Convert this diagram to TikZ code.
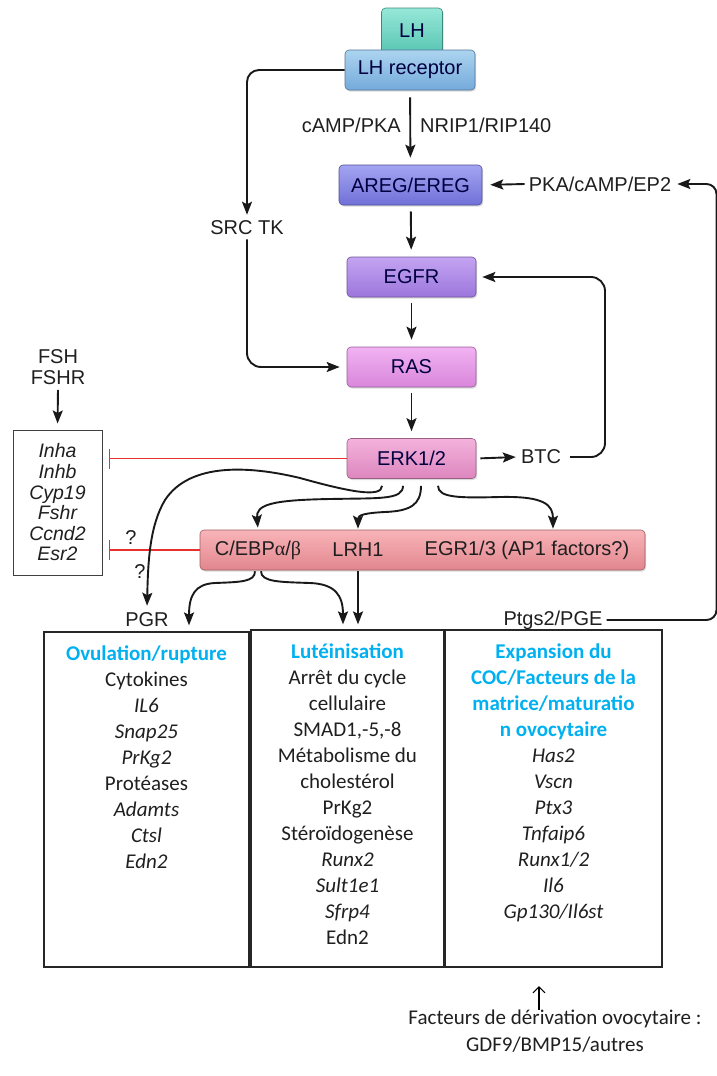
\documentclass[tikz,border=0pt]{standalone}
\usepackage{fontspec}
\setmainfont{Liberation Sans}
\newfontfamily\calib{Carlito}
\newfontfamily\greekf{Liberation Serif}
\usetikzlibrary{arrows.meta,shadows,positioning,calc}

\definecolor{titleblue}{RGB}{0,176,240}
\definecolor{inhred}{RGB}{232,48,44}
\definecolor{lhA}{RGB}{150,232,216}\definecolor{lhB}{RGB}{88,196,178}
\definecolor{lhrA}{RGB}{172,212,240}\definecolor{lhrB}{RGB}{116,170,218}
\definecolor{aregA}{RGB}{164,164,242}\definecolor{aregB}{RGB}{112,112,216}
\definecolor{egfrA}{RGB}{196,164,242}\definecolor{egfrB}{RGB}{156,118,220}
\definecolor{rasA}{RGB}{242,178,242}\definecolor{rasB}{RGB}{216,134,218}
\definecolor{erkA}{RGB}{244,178,220}\definecolor{erkB}{RGB}{220,134,190}
\definecolor{tfA}{RGB}{248,180,184}\definecolor{tfB}{RGB}{226,134,142}

\newcommand\gname[1]{{\itshape #1}}
\newcommand\ptitle[1]{{\color{titleblue}\bfseries #1}}

\begin{document}
\begin{tikzpicture}[x=1pt, y=-1pt,
    every node/.style={font=\fontsize{20}{21}\selectfont, inner sep=4pt, text=black!88},
    pathbox/.style 2 args={draw=#2!70!black, line width=0.6pt, rounded corners=4pt,
      top color=#1, bottom color=#2, minimum height=40pt, inner sep=2pt, text=black!75!blue,
      drop shadow={shadow xshift=1.2pt, shadow yshift=-1.5pt, opacity=0.3}},
    arr/.style={line width=1.9pt, black!90, -{Stealth[length=13pt,width=10pt,inset=2.5pt]}},
    inh/.style={line width=1.8pt, inhred, -{Bar[width=20pt]}},
    panel/.style={draw=black!85, line width=1.2pt},
    paneltext/.style={font=\calib\fontsize{21}{26}\selectfont, align=center, inner sep=0pt, anchor=north}
  ]
  \useasboundingbox (0,0) rectangle (717,1076);

  % signalling cascade
  \node[pathbox={lhA}{lhB}, minimum width=61pt, minimum height=46pt] (lh) at (412,31) {LH};
  \node[pathbox={lhrA}{lhrB}, minimum width=130pt] (lhr) at (410,70) {LH receptor};
  \node[pathbox={aregA}{aregB}, minimum width=143pt] (areg) at (410.5,185) {AREG/EREG};
  \node[pathbox={egfrA}{egfrB}, minimum width=129pt] (egfr) at (411.5,277) {EGFR};
  \node[pathbox={rasA}{rasB}, minimum width=129pt] (ras) at (411.5,367) {RAS};
  \node[pathbox={erkA}{erkB}, minimum width=129pt] (erk) at (411.5,458.5) {ERK1/2};
  \node[pathbox={tfA}{tfB}, minimum width=445pt] (tf) at (422.5,550) {};

  \node (cebp) at (258,550) {C/EBP{\greekf α}/{\greekf β}};
  \node (lrh) at (358,550) {LRH1};
  \node (egr) at (527,550) {EGR1/3 (AP1 factors?)};

  \node[anchor=east] (camp) at (405,125) {cAMP/PKA};
  \node[anchor=west] (nrip) at (416,125) {NRIP1/RIP140};
  \node (srctk) at (247,228) {SRC TK};
  \node (pka) at (600,184) {PKA/cAMP/EP2};
  \node (btc) at (541,457) {BTC};
  \node[align=center] (fsh) at (58,367) {FSH\\FSHR};
  \node (pgr) at (147,620) {PGR};
  \node (ptgs) at (553,620) {Ptgs2/PGE};
  \node (q1) at (131,538) {?};
  \node (q2) at (140,572) {?};

  \node[draw=black!75, line width=1pt, minimum width=89pt, minimum height=145pt, align=center,
    font=\itshape\fontsize{19.5}{20.6}\selectfont] (genes) at (57.5,502.5)
    {Inha\\Inhb\\Cyp19\\Fshr\\Ccnd2\\Esr2};

  % straight links
  \draw[arr, shorten <=7pt, shorten >=7pt] (lhr) -- (areg);
  \draw[arr, shorten <=6pt, shorten >=7pt] (areg) -- (egfr);
  \draw[arr, shorten <=6pt, shorten >=7pt] (egfr) -- (ras);
  \draw[arr, shorten <=6pt, shorten >=7pt] (ras) -- (erk);
  \draw[arr, rounded corners=12pt, shorten >=2pt] (lhr.west) -| (srctk.north);
  \draw[arr, rounded corners=14pt, shorten >=7pt] (srctk.south) |- (ras.west);
  \draw[arr, shorten <=4pt, shorten >=1pt] (erk.east) -- (btc.west);
  \draw[arr, rounded corners=14pt, shorten <=5pt, shorten >=6pt]
    (btc.east) -- (605,457) -- (605,277) -- (egfr.east);
  \draw[arr, shorten >=8pt] (pka.west) -- (areg.east);
  \coordinate (pgeturn) at (716.5,620);
  \draw[arr, rounded corners=10pt, shorten >=2pt]
    (ptgs.east) -- (pgeturn) -- (pgeturn |- pka.east) -- (pka.east);
  \draw[arr, shorten <=1pt, shorten >=6pt] (fsh.south) -- (genes.north);

  % inhibitions
  \draw[inh, shorten >=6pt] (erk.west) -- (erk.west -| genes.east);
  \draw[inh, shorten >=6pt] (tf.west) -- (tf.west -| genes.east);

  % ERK targets
  \draw[arr, shorten >=3pt] ($(erk.south)+(-29.5,7)$) .. controls (382,498) and (350,492) .. (300,478)
    .. controls (250,466) and (190,462) .. (165,500)
    .. controls (150,525) and (148,560) .. (pgr.north);
  \draw[arr, shorten >=2pt] ($(erk.south)+(-8.5,7)$) .. controls (403,500) and (380,498) .. (330,499)
    .. controls (270,500) and (256,505) .. (cebp |- tf.north);
  \draw[arr, shorten >=1pt] ($(erk.south)+(9.5,7)$) .. controls (421,505) and (410,511) .. (385,512)
    .. controls (365,513) and (358,515) .. (lrh |- tf.north);
  \draw[arr, shorten >=1pt] ($(erk.south)+(26.5,7)$) .. controls (438,498) and (460,498) .. (500,497)
    .. controls (545,496) and (553,505) .. (553,0 |- tf.north);

  % panels
  \node[panel, minimum width=205pt, minimum height=335pt] (ovu) at (146.5,799.5) {};
  \node[panel, minimum width=193pt, minimum height=337pt] (lut) at (347.5,798.5) {};
  \node[panel, minimum width=217pt, minimum height=337pt] (coc) at (553.5,798.5) {};

  % C/EBP and LRH1 outputs
  \draw[arr, shorten >=6pt] ($(cebp |- tf.south)+(-3,1)$) .. controls (255,582) and (240,582) .. (215,583)
    .. controls (195,584) and (189,595) .. (189,0 |- ovu.north);
  \draw[arr, shorten >=5pt] ($(cebp |- tf.south)+(3,1)$) .. controls (261,582) and (280,582) .. (310,583)
    .. controls (335,584) and (343,595) .. (343,0 |- lut.north);
  \draw[arr, shorten <=1pt, shorten >=5pt] (lrh |- tf.south) -- (lrh |- lut.north);

  \node[paneltext] (ovutxt) at ($(ovu.north)+(0,14)$) {\ptitle{Ovulation/rupture}\\Cytokines\\
    \gname{IL6}\\\gname{Snap25}\\\gname{PrKg2}\\Protéases\\\gname{Adamts}\\\gname{Ctsl}\\\gname{Edn2}};
  \node[paneltext] (luttxt) at ($(lut.north)+(0,14)$) {\ptitle{Lutéinisation}\\Arrêt du cycle\\cellulaire\\
    SMAD1,-5,-8\\Métabolisme du\\cholestérol\\PrKg2\\Stéroïdogenèse\\\gname{Runx2}\\
    \gname{Sult1e1}\\\gname{Sfrp4}\\Edn2};
  \node[paneltext] (coctxt) at ($(coc.north)+(0,14)$) {\ptitle{Expansion du}\\\ptitle{COC/Facteurs de la}\\
    \ptitle{matrice/maturatio}\\\ptitle{n ovocytaire}\\\gname{Has2}\\\gname{Vscn}\\\gname{Ptx3}\\
    \gname{Tnfaip6}\\\gname{Runx1/2}\\\gname{Il6}\\\gname{Gp130/Il6st}};

  % oocyte factors
  \node[font=\calib\fontsize{21}{27}\selectfont, align=center, inner sep=0pt] (ovo) at (555,1031)
    {Facteurs de dérivation ovocytaire :\\GDF9/BMP15/autres};
  \coordinate (ovobase) at (539,1010);
  \coordinate (ovotip) at (539,986);
  \draw[line width=1.1pt, -{Straight Barb[length=6pt,width=12pt]}] (ovobase) -- (ovotip);
\end{tikzpicture}
\end{document}
